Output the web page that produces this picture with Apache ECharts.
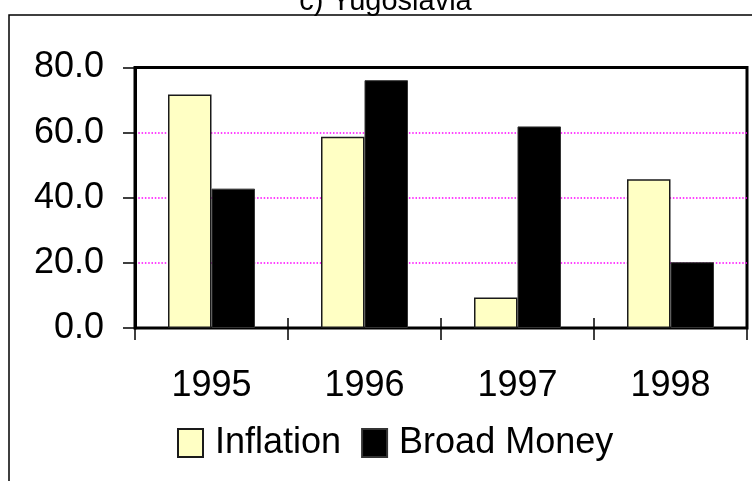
<!DOCTYPE html>
<html>
<head>
<meta charset="utf-8">
<script src="https://cdn.jsdelivr.net/npm/echarts@6/dist/echarts.min.js"></script>
<style>
  html, body { margin: 0; padding: 0; background: #fff; }
  #chart { width: 752px; height: 481px; }
</style>
</head>
<body>
<div id="chart"></div>
<script>
// data
const years = ['1995', '1996', '1997', '1998']
const inflation = [71.7, 58.7, 9.4, 45.7]
const broadMoney = [42.8, 76.1, 61.9, 20.2]
const yTicks = [0, 20, 40, 60, 80]

const FONT = '"Liberation Sans", Arial, sans-serif'

const chart = echarts.init(document.getElementById('chart'))

const option = {
  backgroundColor: '#fff',
  animation: false,
  textStyle: { fontFamily: FONT, color: '#000' },
  graphic: [{
    // outer chart frame, only the top and left edges show
    type: 'rect',
    z: -10,
    shape: { x: 9, y: 15, width: 900, height: 700 },
    style: { fill: 'none', stroke: '#000', lineWidth: 1.5 }
  }, {
    // title, cut off by the top of the picture
    type: 'text',
    x: 385.5,
    y: 16,
    style: {
      text: 'c) Yugoslavia',
      fontFamily: FONT,
      fontSize: 29,
      fill: '#000',
      align: 'center',
      verticalAlign: 'bottom'
    }
  }],
  legend: {
    left: 172,
    top: 420,
    itemWidth: 25,
    itemHeight: 28,
    itemGap: 20,
    icon: 'rect',
    textStyle: { fontFamily: FONT, fontSize: 36, color: '#000', padding: [0, 0, 0, 7] },
    data: ['Inflation', 'Broad Money']
  },
  grid: {
    left: 135,
    right: 5,
    top: 67.5,
    bottom: 153,
    show: true,
    borderColor: '#000',
    borderWidth: 3
  },
  xAxis: [{
    type: 'category',
    data: years,
    position: 'bottom',
    axisLine: { lineStyle: { color: '#000', width: 2 } },
    axisTick: { show: true, length: 12, lineStyle: { color: '#000', width: 1.5 } },
    axisLabel: { fontFamily: FONT, fontSize: 36, color: '#000', margin: 40 },
    splitLine: { show: false }
  }, {
    // second copy only to draw the part of the ticks that crosses into the plot
    type: 'category',
    data: years,
    position: 'bottom',
    axisLine: { show: false },
    axisTick: { show: true, inside: true, length: 10, lineStyle: { color: '#000', width: 1.5 } },
    axisLabel: { show: false },
    splitLine: { show: false }
  }],
  yAxis: {
    type: 'value',
    min: yTicks[0],
    max: yTicks[yTicks.length - 1],
    interval: 20,
    axisLine: { show: true, lineStyle: { color: '#000', width: 3 } },
    axisTick: { show: true, length: 12, lineStyle: { color: '#000', width: 1.5 } },
    axisLabel: {
      fontFamily: FONT,
      fontSize: 36,
      color: '#000',
      margin: 31,
      formatter: v => v.toFixed(1)
    },
    splitLine: {
      show: true,
      showMinLine: false,
      showMaxLine: false,
      lineStyle: { color: '#ff00ff', width: 1.5, type: [1.5, 1.8] }
    }
  },
  series: [{
    name: 'Inflation',
    type: 'bar',
    xAxisIndex: 0,
    data: inflation,
    barWidth: 43.5,
    barGap: '0%',
    itemStyle: { color: '#ffffc4', borderColor: '#1a1a1a', borderWidth: 1.5 }
  }, {
    name: 'Broad Money',
    type: 'bar',
    xAxisIndex: 0,
    data: broadMoney,
    barWidth: 43.5,
    barGap: '0%',
    itemStyle: { color: '#000', borderColor: '#333', borderWidth: 1 }
  }]
}

chart.setOption(option)
</script>
</body>
</html>
